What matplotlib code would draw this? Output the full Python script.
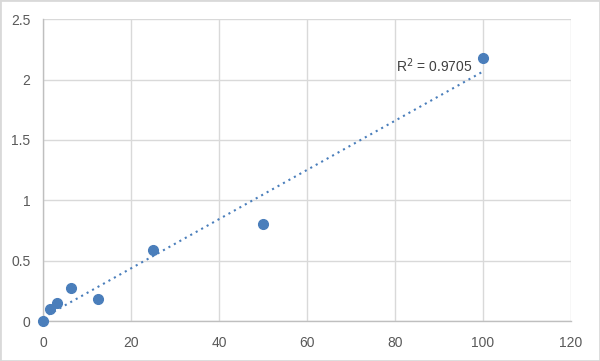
import numpy as np
import matplotlib
matplotlib.use("Agg")
import matplotlib.pyplot as plt

# concentration vs OD readings
conc = [0, 1.5625, 3.125, 6.25, 12.5, 25, 50, 100]
od = [0.0, 0.10, 0.15, 0.27, 0.18, 0.59, 0.80, 2.18]
xticks = [0, 20, 40, 60, 80, 100, 120]
yticks = [0, 0.5, 1, 1.5, 2, 2.5]
r2_label = "R$^2$ = 0.9705"

plt.rcParams["font.family"] = ["Liberation Sans", "DejaVu Sans"]

fig = plt.figure(figsize=(6, 3.61), dpi=100)
ax = fig.add_axes([0.0717, 0.1108, 0.88, 0.8362])

slope, icpt = np.polyfit(conc, od, 1)
xs = np.array([min(conc), max(conc)])
ax.plot(xs, slope * xs + icpt, color="#4a7ebb", lw=1.5, ls=(0, (1, 2)), zorder=2)
ax.plot(conc, od, "o", color="#4a7ebb", ms=7, zorder=3, clip_on=False)
ax.text(80.3, 2.06, r2_label, fontsize=10, color="#404040")

ax.set_xlim(0, 120)
ax.set_ylim(0, 2.5)
ax.set_xticks(xticks)
ax.set_yticks(yticks)
ax.set_yticklabels(["0", "0.5", "1", "1.5", "2", "2.5"])
ax.grid(True, color="#d9d9d9", lw=1)
ax.set_axisbelow(True)
for s in ["top", "right"]:
    ax.spines[s].set_visible(False)
for s in ["left", "bottom"]:
    ax.spines[s].set_color("#bfbfbf")
    ax.spines[s].set_linewidth(1)
ax.tick_params(length=0, labelsize=10, labelcolor="#595959")
ax.tick_params(axis="x", pad=11)
ax.tick_params(axis="y", pad=9)

fig.patches.append(plt.Rectangle((0, 0), 1, 1, transform=fig.transFigure,
                                 fill=False, edgecolor="#d9d9d9", lw=2))
fig.savefig("out.png", dpi=100)
